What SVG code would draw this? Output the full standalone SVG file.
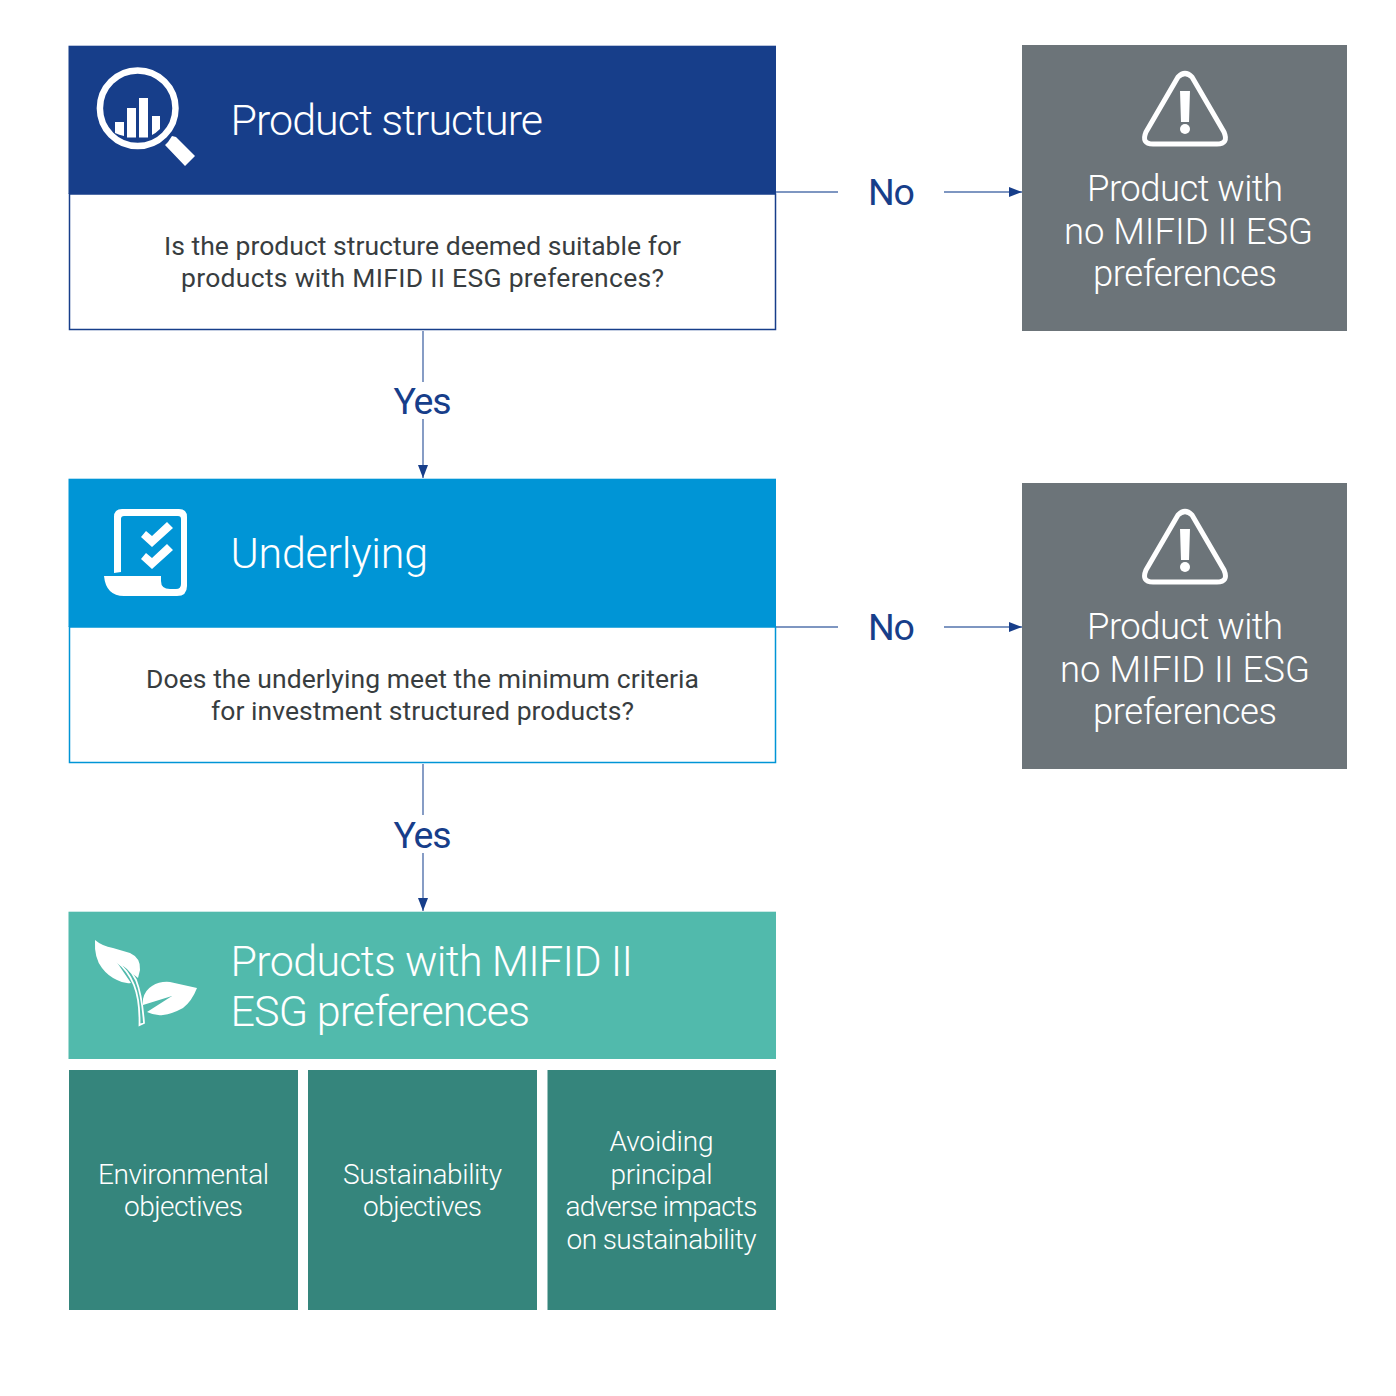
<svg xmlns="http://www.w3.org/2000/svg" width="1396" height="1396" viewBox="0 0 1396 1396">
<style>
text{font-family:"Roboto","Liberation Sans",sans-serif;text-anchor:middle}
.h{font-size:43px;font-weight:300;fill:#fff;text-anchor:start}
.q{font-size:26.500px;font-weight:400;fill:#383d40}
.w{font-size:36.500px;font-weight:300;fill:#fff}
.s{font-size:28px;font-weight:300;fill:#fff}
.l{font-size:37.500px;font-weight:400;fill:#173e8a}
.c{fill:none;stroke:#5373ad;stroke-width:1.4}
.ic{fill:#fff}
.ist{fill:none;stroke:#fff}
</style>
<defs>
<marker id="a" markerUnits="userSpaceOnUse" markerWidth="14" markerHeight="12" refX="13" refY="5" orient="auto"><path d="M0 0L13 5L0 10z" fill="#173e8a"/></marker>
<g id="warn"><path class="ist" stroke-width="5" stroke-linejoin="round" d="M1178 77Q1185 70 1192 77L1224 132Q1229 144 1217 144H1153Q1141 144 1146 132Z"/><path class="ic" d="M1180 91H1190L1189 122H1181Z"/><circle class="ic" cx="1185" cy="129" r="5"/></g>
</defs>
<rect width="1396" height="1396" fill="#fff"/>
<g id="connectors">
<path class="c" d="M776 192H838"/><path class="c" d="M944 192H1022" marker-end="url(#a)"/>
<path class="c" d="M776 627H838"/><path class="c" d="M944 627H1022" marker-end="url(#a)"/>
<path class="c" d="M423 331V382"/><path class="c" d="M423 419V478" marker-end="url(#a)"/>
<path class="c" d="M423 764V815"/><path class="c" d="M423 853V911" marker-end="url(#a)"/>
<text class="l" x="891.500" y="204.500" textLength="47">No</text><text class="l" x="891.500" y="639.500" textLength="47">No</text>
<text class="l" x="422.500" y="414" textLength="58">Yes</text><text class="l" x="422.500" y="848" textLength="58">Yes</text>
</g>
<g id="product-structure">
<rect x="69.500" y="194" width="706" height="135.500" fill="#fff" stroke="#173e8a" stroke-width="1.500"/>
<rect x="68.500" y="45.700" width="707.500" height="148.300" fill="#173e8a"/>
<g><circle class="ist" stroke-width="6.500" cx="137.700" cy="108.300" r="37.800"/>
<path class="ic" d="M115 122H124V136Q119 135 115 133ZM127 108H136V137.500H127ZM139 98H148V137.500H139ZM152 116H160V129Q156 133 152 135Z"/>
<path class="ic" d="M172 136L176 137L195 156L185 166L165 145L168 142Z"/></g>
<text class="h" x="230.500" y="135" textLength="312.500">Product structure</text>
<text class="q" x="422.500" y="255" textLength="517">Is the product structure deemed suitable for</text>
<text class="q" x="422.500" y="287" textLength="483">products with MIFID II ESG preferences?</text>
</g>
<g id="underlying">
<rect x="69.500" y="627" width="706" height="135.500" fill="#fff" stroke="#0095d6" stroke-width="1.500"/>
<rect x="68.500" y="478.700" width="707.500" height="148.300" fill="#0095d6"/>
<g><path class="ic" d="M114 573V517Q114 509 122 509H179Q187 509 187 517V586Q187 596 177 596H124Q106 596 104 576H161V581Q161 589 170 589H176Q181 589 181 584V519Q181 516 178 516H124Q121 516 121 519V572Z"/>
<path class="ic" d="M141 537L146 531L152 536L167 522L173 528L152 547Z"/>
<path class="ic" d="M141 559L146 553L152 558L167 544L173 550L152 569Z"/></g>
<text class="h" x="230.500" y="568" textLength="197.500">Underlying</text>
<text class="q" x="422.500" y="688" textLength="553">Does the underlying meet the minimum criteria</text>
<text class="q" x="422.500" y="720" textLength="423">for investment structured products?</text>
</g>
<g id="products-esg">
<rect x="68.500" y="911.700" width="707.500" height="147.300" fill="#51baac"/>
<g><path class="ic" d="M95 940Q102 946 113 948L130 953Q141 958 140 970L138 978L116 961L131 983Q124 984 117 980Q108 976 102 968Q94 958 95 940Z"/>
<path class="ic" d="M197 988L170 982Q160 981 152 986Q145 990 143 999V1005L172 996L147 1012Q155 1016 163 1015Q172 1014 183 1008Q192 1001 197 988Z"/>
<path d="M116 961Q130 967 136 980Q142 995 144 1023L139.500 1025Q140 1000 134 985Q128 970 116 961Z" fill="#51baac" stroke="#fff" stroke-width="1.800"/></g>
<text class="h" x="230.500" y="976" textLength="402.500">Products with MIFID II</text>
<text class="h" x="230.500" y="1026" textLength="299.500">ESG preferences</text>
</g>
<g id="environmental"><rect x="69" y="1070" width="229" height="240" fill="#35857c"/>
<text class="s" x="183.500" y="1184" textLength="171">Environmental</text><text class="s" x="183.500" y="1216" textLength="119">objectives</text></g>
<g id="sustainability"><rect x="308" y="1070" width="229" height="240" fill="#35857c"/>
<text class="s" x="422.500" y="1184" textLength="159">Sustainability</text><text class="s" x="422.500" y="1216" textLength="119">objectives</text></g>
<g id="avoiding"><rect x="547.500" y="1070" width="228.500" height="240" fill="#35857c"/>
<text class="s" x="661.500" y="1151" textLength="104">Avoiding</text><text class="s" x="661.500" y="1184" textLength="102">principal</text><text class="s" x="661.500" y="1216" textLength="192">adverse impacts</text><text class="s" x="661.500" y="1249" textLength="190">on sustainability</text></g>
<g id="no-esg-1"><rect x="1022" y="45" width="325" height="286" fill="#6c7479"/>
<use href="#warn"/>
<text class="w" x="1185" y="201" textLength="196">Product with</text><text class="w" x="1188.500" y="244" textLength="249">no MIFID II ESG</text><text class="w" x="1185" y="286" textLength="184">preferences</text></g>
<g id="no-esg-2"><rect x="1022" y="483" width="325" height="286" fill="#6c7479"/>
<use href="#warn" y="438"/>
<text class="w" x="1185" y="639" textLength="196">Product with</text><text class="w" x="1185" y="682" textLength="250">no MIFID II ESG</text><text class="w" x="1185" y="724" textLength="184">preferences</text></g>
</svg>
